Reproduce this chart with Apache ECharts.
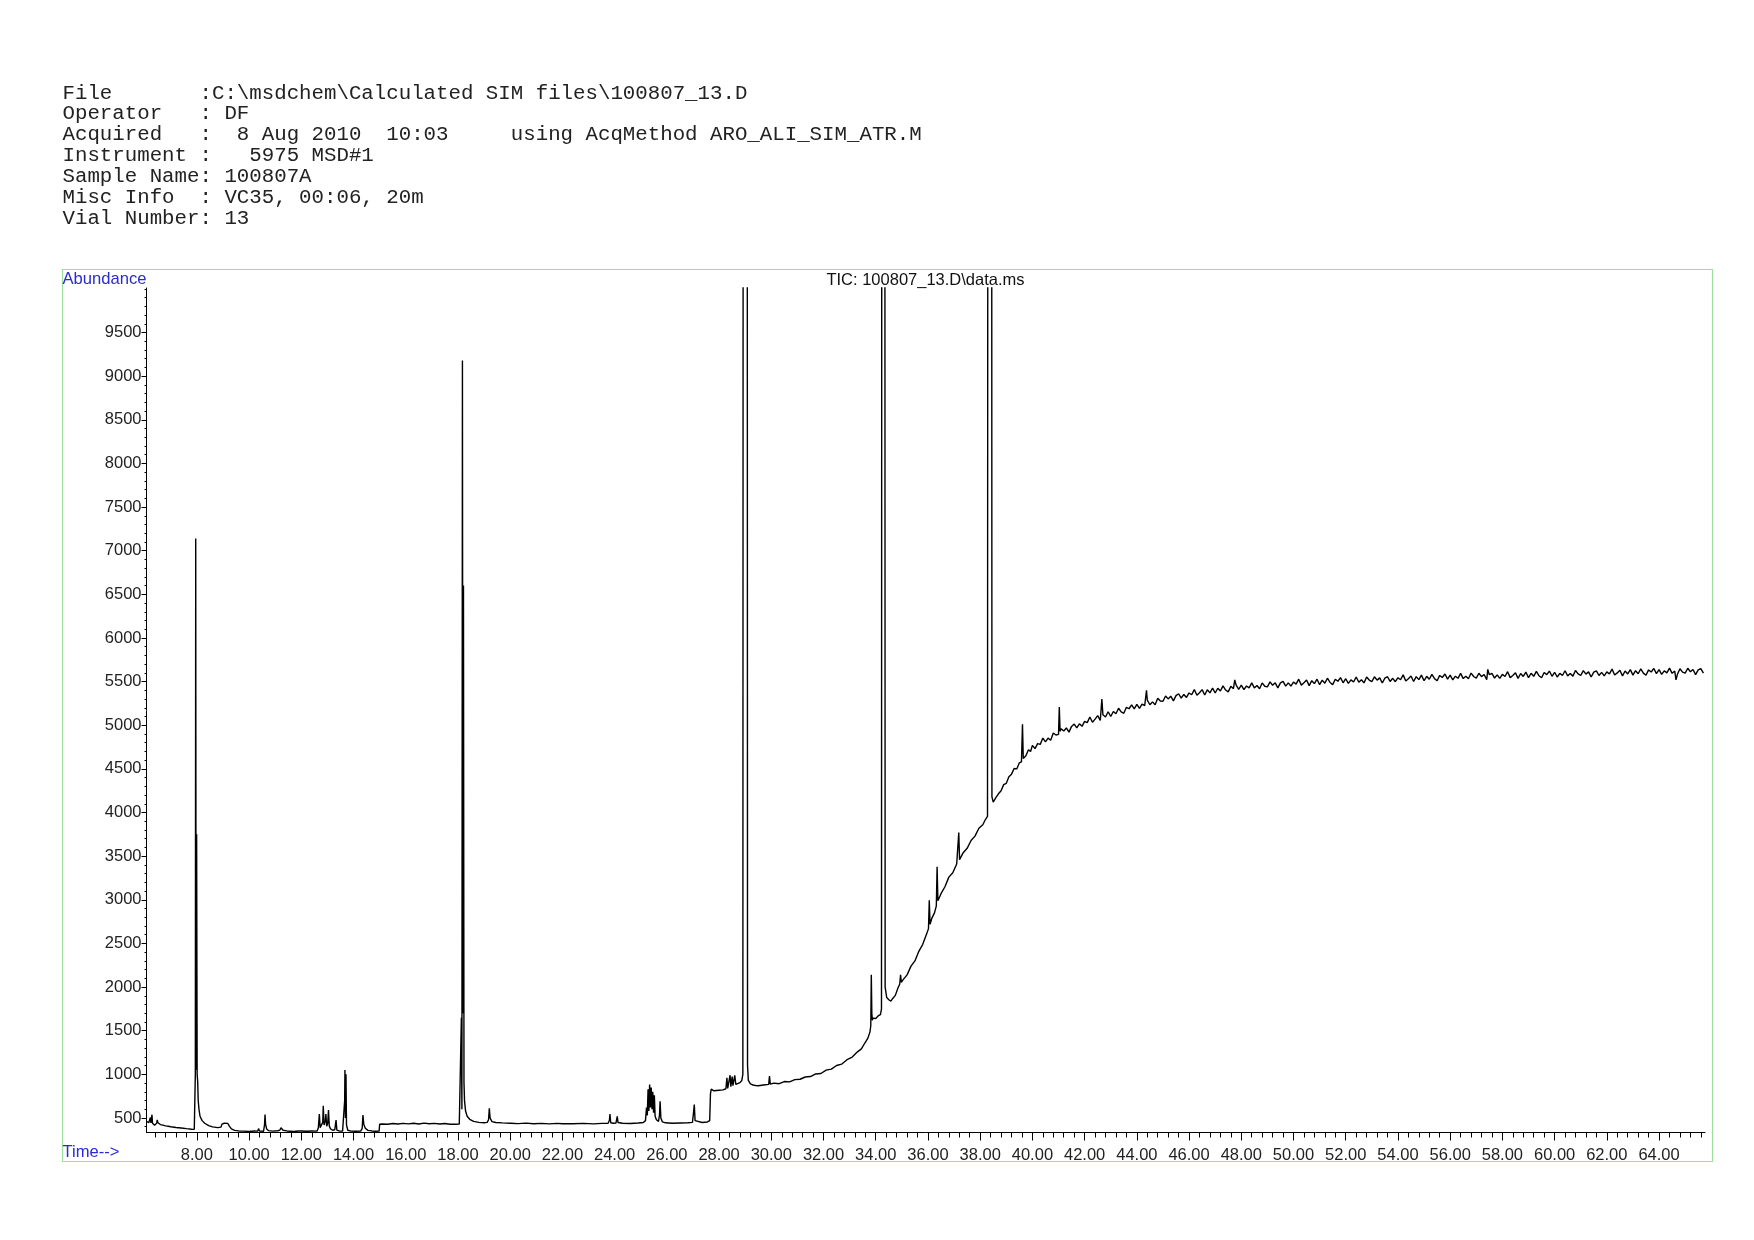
<!DOCTYPE html>
<html><head><meta charset="utf-8">
<script src="https://cdn.jsdelivr.net/npm/echarts@6/dist/echarts.min.js"></script>
<style>html,body{margin:0;padding:0;background:#fff}#c{width:1754px;height:1240px}</style>
</head><body><div id="c"></div>
<script>
// ---------- header / labels ----------
const headerLines = [
  'File       :C:\\msdchem\\Calculated SIM files\\100807_13.D',
  'Operator   : DF',
  'Acquired   :  8 Aug 2010  10:03     using AcqMethod ARO_ALI_SIM_ATR.M',
  'Instrument :   5975 MSD#1',
  'Sample Name: 100807A',
  'Misc Info  : VC35, 00:06, 20m',
  'Vial Number: 13'
];
const chartTitle = 'TIC: 100807_13.D\\data.ms';
const yAxisName = 'Abundance';
const xAxisName = 'Time-->';

// ---------- tick values ----------
const xMajorTicks = [8,10,12,14,16,18,20,22,24,26,28,30,32,34,36,38,40,42,44,46,48,50,52,54,56,58,60,62,64];
const yMajorTicks = [500,1000,1500,2000,2500,3000,3500,4000,4500,5000,5500,6000,6500,7000,7500,8000,8500,9000,9500];

// ---------- TIC trace [time (min), abundance] ----------
const segEarly = [
 [6.08,458],[6.12,452],[6.16,448],[6.2,455],[6.22,505],[6.24,445],[6.27,450],[6.28,538],[6.30,440],[6.33,425],
 [6.38,418],[6.43,420],[6.46,440],[6.48,478],[6.51,445],[6.55,430],[6.6,425],[6.7,418],[6.8,410],[6.9,405],
 [7.0,400],[7.2,392],[7.4,386],[7.6,378],[7.8,372],[7.9,370],[7.93,380],[7.94,1000],[7.955,7140],[7.97,1050],
 [7.99,3750],[8.01,1000],[8.03,920],[8.05,700],[8.08,600],[8.12,520],[8.2,470],[8.3,440],[8.45,412],[8.6,398],
 [8.8,390],[8.92,395],[8.96,430],[9.05,440],[9.12,432],[9.18,438],[9.25,405],[9.32,375],[9.45,358],[9.6,352],
 [9.8,350],[10.0,346],[10.2,352],[10.33,350],[10.36,378],[10.4,352],[10.55,348],[10.59,420],[10.61,540],[10.63,430],
 [10.67,375],[10.75,355],[10.9,350],[11.1,354],[11.18,362],[11.22,388],[11.3,360],[11.45,352],[11.7,346],[11.9,352],
 [11.95,372],[12.0,352],[12.2,348],[12.4,352],[12.6,350],[12.65,385],[12.69,546],[12.72,390],[12.77,410],[12.82,450],
 [12.84,640],[12.87,420],[12.9,425],[12.92,470],[12.94,546],[12.97,405],[13.01,440],[13.04,592],[13.07,410],[13.12,375],
 [13.2,360],[13.28,365],[13.33,477],[13.36,362],[13.45,352],[13.58,350],[13.64,360],[13.66,700],[13.67,1050],[13.69,500],
 [13.71,1000],[13.73,420],[13.78,360],[13.9,350],[14.1,348],[14.28,352],[14.33,380],[14.36,535],[14.39,430],[14.45,382],
 [14.55,358],[14.7,352],[14.85,348],[14.98,350],[15.0,428]
];
const segMiddle = [
 [15.1,432],[15.3,428],[15.5,437],[15.7,431],[15.9,439],[16.1,433],[16.3,440],[16.5,432],[16.7,441],[16.9,435],
 [17.1,439],[17.3,431],[17.5,437],[17.7,429],[17.9,428],[18.05,432],[18.1,445],[18.13,1650],[18.15,600],[18.17,9180],
 [18.19,1700],[18.21,6600],[18.23,900],[18.25,700],[18.29,580],[18.35,520],[18.45,485],[18.6,462],[18.8,450],[19.0,446],
 [19.12,450],[19.17,480],[19.2,612],[19.23,500],[19.3,458],[19.45,448],[19.7,444],[20.0,440],[20.3,436],[20.6,441],
 [20.9,435],[21.2,439],[21.5,433],[21.8,438],[22.0,435],[22.03,455],[22.06,436],[22.4,434],[22.8,438],[23.2,433],
 [23.5,439],[23.75,440],[23.8,475],[23.82,545],[23.85,445],[23.95,440],[24.05,442],[24.1,520],[24.13,448],[24.3,440],
 [24.6,437],[24.9,443],[25.1,448],[25.18,470],[25.22,620],[25.25,530],[25.28,830],[25.31,580],[25.34,884],[25.37,620],
 [25.4,850],[25.43,600],[25.46,800],[25.49,560],[25.52,760],[25.55,520],[25.6,480],[25.68,462],[25.72,540],[25.74,692],
 [25.77,500],[25.83,455],[25.95,445],[26.2,440],[26.5,443],[26.8,445],[26.98,450],[27.02,560],[27.05,655],[27.08,470],
 [27.15,450],[27.35,448],[27.55,455],[27.64,470],[27.67,780],[27.7,830],[27.73,810],[27.8,812],[28.0,818],[28.15,822],
 [28.26,835],[28.3,960],[28.33,840],[28.38,850],[28.42,990],[28.45,860],[28.5,975],[28.53,870],[28.57,870],[28.6,990],
 [28.64,885],[28.7,890],[28.8,905],[28.87,930],[28.91,1000],[28.94,30000],[29.06,30000],[29.09,1100],[29.12,930],[29.2,890],
 [29.3,878],[29.4,872],[29.5,870]
];
const segRise = [
 [29.7,878],[29.9,885],[29.93,980],[29.96,888],[30.1,900],[30.3,893],[30.5,918],[30.7,914],[30.9,940],[31.1,944],
 [31.3,970],[31.5,975],[31.7,1005],[31.9,1010],[32.1,1048],[32.3,1060],[32.5,1102],[32.7,1118],[32.9,1168],[33.1,1198],
 [33.3,1258],[33.45,1292],[33.6,1368],[33.7,1415],[33.78,1488],[33.81,1560],[33.83,2140],[33.85,1700],[33.87,1620],[33.9,1645],
 [34.0,1640],[34.1,1672],[34.18,1685],[34.22,1750],[34.25,30000],[34.33,30000],[34.36,2000],[34.42,1880],[34.5,1855],[34.58,1840],
 [34.65,1870],[34.75,1905],[34.85,1990],[34.92,2035],[34.95,2140],[34.98,2055],[35.05,2085],[35.2,2140],[35.35,2240],[35.5,2300],
 [35.65,2410],[35.8,2490],[35.95,2610],[36.02,2670],[36.05,2995],[36.08,2720],[36.15,2790],[36.25,2850],[36.32,2930],[36.35,3380],
 [36.38,2990],[36.5,3070],[36.65,3150],[36.8,3260],[36.95,3310],[37.1,3410],[37.16,3425],[37.18,3770],[37.21,3460],[37.35,3540],
 [37.5,3590],[37.65,3680],[37.8,3730],[37.95,3820],[38.1,3860],[38.2,3920],[38.28,3955],[38.32,30000],[38.42,30000],[38.45,4180],
 [38.5,4120],[38.6,4170],[38.7,4215],[38.8,4250],[38.9,4320],[39.0,4335],[39.1,4410],[39.2,4440],[39.3,4505],[39.4,4500],
 [39.5,4570],[39.58,4580],[39.62,5010],[39.65,4620],[39.75,4650],[39.85,4720],[39.93,4700]
];
const segPlateau = [
 [40.0,4770],[40.1,4732],[40.2,4789],[40.3,4781],[40.4,4853],[40.5,4810],[40.6,4852],[40.7,4829],[40.8,4911],[40.9,4888],
 [41.0,4895],[41.03,5210],[41.06,4930],[41.1,4961],[41.2,4933],[41.3,4969],[41.4,4921],[41.5,4987],[41.6,5014],[41.7,4970],[41.8,5017],[41.9,4988],
 [42.0,5045],[42.1,5030],[42.2,5095],[42.3,5035],[42.4,5070],[42.5,5110],[42.6,5055],[42.66,5300],[42.7,5120],[42.8,5095],[42.9,5155],
 [43.0,5100],[43.1,5158],[43.2,5132],[43.3,5195],[43.4,5154],[43.5,5137],[43.6,5206],[43.7,5189],[43.8,5233],[43.9,5187],
 [44.0,5240],[44.1,5193],[44.2,5241],[44.3,5224],[44.37,5400],[44.4,5287],[44.5,5235],[44.6,5268],[44.7,5236],[44.8,5309],[44.9,5277],
 [45.0,5275],[45.1,5336],[45.2,5302],[45.3,5333],[45.4,5279],[45.5,5340],[45.6,5361],[45.7,5312],[45.8,5353],[45.9,5319],
 [46.0,5370],[46.1,5350],[46.2,5409],[46.3,5344],[46.4,5373],[46.5,5408],[46.6,5347],[46.7,5407],[46.8,5371],[46.9,5426],
 [47.0,5370],[47.1,5424],[47.2,5392],[47.3,5451],[47.4,5404],[47.5,5383],[47.6,5446],[47.7,5420],[47.75,5520],[47.8,5463],[47.9,5412],
 [48.0,5460],[48.1,5408],[48.2,5450],[48.3,5428],[48.4,5485],[48.5,5428],[48.6,5455],[48.7,5418],[48.8,5485],[48.9,5447],
 [49.0,5440],[49.1,5497],[49.2,5459],[49.3,5486],[49.4,5428],[49.5,5485],[49.6,5502],[49.7,5449],[49.8,5486],[49.9,5448],
 [50.0,5495],[50.1,5471],[50.2,5528],[50.3,5460],[50.4,5486],[50.5,5518],[50.6,5454],[50.7,5511],[50.8,5477],[50.9,5528],
 [51.0,5465],[51.1,5516],[51.2,5482],[51.3,5539],[51.4,5490],[51.5,5466],[51.6,5527],[51.7,5504],[51.8,5545],[51.9,5487],
 [52.0,5533],[52.1,5479],[52.2,5520],[52.3,5496],[52.4,5553],[52.5,5494],[52.6,5521],[52.7,5486],[52.8,5552],[52.9,5518],
 [53.0,5500],[53.1,5556],[53.2,5517],[53.3,5543],[53.4,5484],[53.5,5540],[53.6,5556],[53.7,5502],[53.8,5538],[53.9,5499],
 [54.0,5545],[54.1,5521],[54.2,5577],[54.3,5508],[54.4,5534],[54.5,5565],[54.6,5501],[54.7,5557],[54.8,5523],[54.9,5574],
 [55.0,5510],[55.1,5561],[55.2,5527],[55.3,5583],[55.4,5534],[55.5,5510],[55.6,5571],[55.7,5547],[55.8,5588],[55.9,5529],
 [56.0,5575],[56.1,5521],[56.2,5562],[56.3,5538],[56.4,5594],[56.5,5535],[56.6,5561],[56.7,5532],[56.8,5598],[56.9,5559],
 [57.0,5540],[57.1,5596],[57.2,5557],[57.3,5582],[57.4,5523],[57.44,5640],[57.5,5579],[57.6,5595],[57.7,5541],[57.8,5577],[57.9,5537],
 [58.0,5583],[58.1,5559],[58.2,5614],[58.3,5546],[58.4,5571],[58.5,5602],[58.6,5537],[58.7,5593],[58.8,5559],[58.9,5609],
 [59.0,5545],[59.1,5596],[59.2,5561],[59.3,5617],[59.4,5568],[59.5,5544],[59.6,5604],[59.7,5580],[59.8,5621],[59.9,5561],
 [60.0,5607],[60.1,5553],[60.2,5594],[60.3,5570],[60.4,5625],[60.5,5566],[60.6,5592],[60.7,5563],[60.8,5628],[60.9,5589],
 [61.0,5570],[61.1,5626],[61.2,5586],[61.3,5612],[61.4,5553],[61.5,5609],[61.6,5624],[61.7,5570],[61.8,5606],[61.9,5566],
 [62.0,5612],[62.1,5588],[62.2,5643],[62.3,5575],[62.4,5600],[62.5,5631],[62.6,5566],[62.7,5622],[62.8,5588],[62.9,5638],
 [63.0,5574],[63.1,5625],[63.2,5590],[63.3,5646],[63.4,5597],[63.5,5573],[63.6,5634],[63.7,5610],[63.8,5651],[63.9,5591],
 [64.0,5637],[64.1,5583],[64.2,5624],[64.3,5600],[64.4,5655],[64.5,5595],[64.6,5621],[64.65,5520],[64.7,5581],[64.8,5647],[64.9,5608],
 [65.0,5598],[65.1,5653],[65.2,5613],[65.3,5639],[65.4,5580],[65.5,5635],[65.6,5650],[65.7,5597]
];
const ticData = segEarly.concat(segMiddle, segRise, segPlateau);

// ---------- axis ranges ----------
const X_MIN = 6.07, X_MAX = 65.76, Y_MIN = 334, Y_MAX = 10010;
const xMinorTicks = [];
for (let k = 16; k <= 164; k++) xMinorTicks.push(+(k * 0.4).toFixed(2));
const yMinorTicks = [];
for (let v = 400; v <= 10000; v += 100) yMinorTicks.push(v);

const chart = echarts.init(document.getElementById('c'), null, {renderer: 'canvas'});
const sans = '"Liberation Sans", Arial, sans-serif';
const blue = '#2a2ad6';

const graphics = [
  {type: 'rect', silent: true, z: 0,
   shape: {x: 62.5, y: 269.5, width: 1650, height: 892},
   style: {fill: 'none', stroke: '#9fe09f', lineWidth: 1.2}},
  {type: 'text', silent: true, x: 62.5, y: 279,
   style: {text: yAxisName, fill: blue, font: '16.6px ' + sans, textAlign: 'left', textVerticalAlign: 'middle', align: 'left', verticalAlign: 'middle'}},
  {type: 'text', silent: true, x: 62.5, y: 1152,
   style: {text: xAxisName, fill: blue, font: '16.6px ' + sans, textAlign: 'left', textVerticalAlign: 'middle', align: 'left', verticalAlign: 'middle'}},
  {type: 'text', silent: true, x: 925.5, y: 280,
   style: {text: chartTitle, fill: '#111', font: '16.5px ' + sans, textAlign: 'center', textVerticalAlign: 'middle', align: 'center', verticalAlign: 'middle'}}
];
headerLines.forEach((line, i) => {
  graphics.push({type: 'text', silent: true, x: 62.5, y: 93 + i * 20.9,
    style: {text: line, fill: '#222', font: '20.75px "Liberation Mono", "Courier New", monospace',
            textAlign: 'left', textVerticalAlign: 'middle', align: 'left', verticalAlign: 'middle'}});
});

chart.setOption({
  animation: false,
  backgroundColor: '#fff',
  grid: {left: 146.5, right: 49, top: 288, bottom: 107.5, containLabel: false},
  xAxis: [
    {type: 'value', min: X_MIN, max: X_MAX, position: 'bottom',
     axisLine: {show: true, onZero: false, lineStyle: {color: '#000', width: 1}},
     axisTick: {show: true, customValues: xMajorTicks, length: 8, lineStyle: {color: '#000', width: 1}},
     axisLabel: {show: true, customValues: xMajorTicks, formatter: v => v.toFixed(2),
                 color: '#222', fontFamily: sans, fontSize: 16.5, margin: 14},
     splitLine: {show: false}},
    {type: 'value', min: X_MIN, max: X_MAX, position: 'bottom',
     axisLine: {show: false, onZero: false},
     axisTick: {show: true, customValues: xMinorTicks, length: 5, lineStyle: {color: '#000', width: 1}},
     axisLabel: {show: false},
     splitLine: {show: false}}
  ],
  yAxis: [
    {type: 'value', min: Y_MIN, max: Y_MAX, position: 'left',
     axisLine: {show: true, onZero: false, lineStyle: {color: '#000', width: 1}},
     axisTick: {show: true, customValues: yMajorTicks, length: 5, lineStyle: {color: '#000', width: 1}},
     axisLabel: {show: true, customValues: yMajorTicks, formatter: v => String(v),
                 color: '#222', fontFamily: sans, fontSize: 16.5, margin: 5},
     splitLine: {show: false}},
    {type: 'value', min: Y_MIN, max: Y_MAX, position: 'left',
     axisLine: {show: false, onZero: false},
     axisTick: {show: true, customValues: yMinorTicks, length: 2, lineStyle: {color: '#000', width: 1}},
     axisLabel: {show: false},
     splitLine: {show: false}}
  ],
  series: [{
    type: 'line', xAxisIndex: 0, yAxisIndex: 0, data: ticData,
    showSymbol: false, symbol: 'none', clip: true, silent: true,
    lineStyle: {color: '#000', width: 1.4}
  }],
  graphic: graphics
});
</script>
</body></html>
